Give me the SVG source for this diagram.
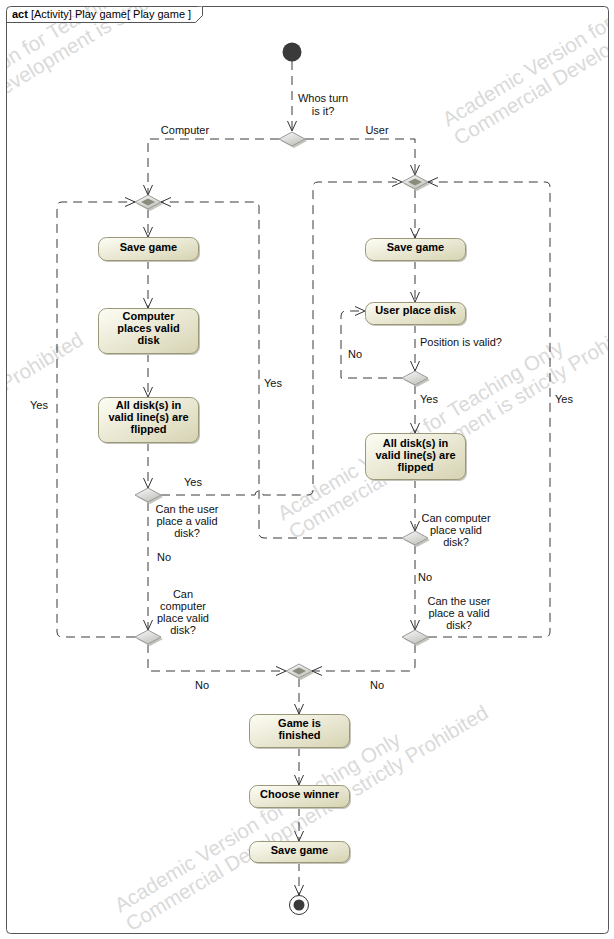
<svg xmlns="http://www.w3.org/2000/svg" width="614" height="939" viewBox="0 0 614 939">
  <style>
    .frame { fill: #ffffff; stroke: #555555; stroke-width: 1; }
    .tab { fill: #ffffff; stroke: #555555; stroke-width: 1; }
    .wm { font-family: "Liberation Sans", Arial, sans-serif; font-size: 20.5px; fill: #dadada; }
    .edge { fill: none; stroke: #3a3a3a; stroke-width: 1; stroke-dasharray: 9 6; }
    .act { fill: url(#actFill); stroke: #9a9878; stroke-width: 1; }
    .shadow { fill: #c4c4bc; }
    .dec { fill: url(#decFill); stroke: #9a9a9a; stroke-width: 1; }
    .mrg { fill: url(#decFill); stroke: #9a9a9a; stroke-width: 1; }
    .mrgIn { fill: #8c8c7c; stroke: none; }
    .nodeText { font-family: "Liberation Sans", Arial, sans-serif; font-size: 11px; font-weight: bold; fill: #000000; text-anchor: middle; }
    .lbl { font-family: "Liberation Sans", Arial, sans-serif; font-size: 11px; fill: #111111; }
    .lblC { font-family: "Liberation Sans", Arial, sans-serif; font-size: 11px; fill: #111111; text-anchor: middle; }
    .title { font-family: "Liberation Sans", Arial, sans-serif; font-size: 11px; fill: #000000; }
  </style>
  <defs>
    <linearGradient id="actFill" x1="0" y1="0" x2="1" y2="1">
      <stop offset="0" stop-color="#fdfdf5"/>
      <stop offset="1" stop-color="#d6d3b2"/>
    </linearGradient>
    <linearGradient id="decFill" x1="0" y1="0" x2="0.6" y2="1">
      <stop offset="0" stop-color="#fafafa"/>
      <stop offset="1" stop-color="#c4c4c0"/>
    </linearGradient>
    <marker id="arr" viewBox="0 0 10 10" refX="10" refY="5" markerWidth="10" markerHeight="10" markerUnits="userSpaceOnUse" orient="auto">
      <path d="M0,0.5 L10,5 L0,9.5" fill="none" stroke="#333333" stroke-width="1"/>
    </marker>
    <clipPath id="frameClip">
      <rect x="7" y="7" width="601" height="926"/>
    </clipPath>
  </defs>

  <!-- diagram frame -->
  <rect class="frame" x="6.5" y="6.5" width="602" height="927" rx="4"/>

  <!-- watermark tiles, clipped to the frame -->
  <g id="watermark" clip-path="url(#frameClip)">
    <g transform="translate(-118,143) rotate(-31)"><text class="wm" x="0" y="0">Academic Version for Teaching Only</text><text class="wm" x="0" y="22">Commercial Development is strictly Prohibited</text></g>
    <g transform="translate(448,127) rotate(-31)"><text class="wm" x="0" y="0">Academic Version for Teaching Only</text><text class="wm" x="0" y="22">Commercial Development is strictly Prohibited</text></g>
    <g transform="translate(-285,540) rotate(-31)"><text class="wm" x="0" y="0">Academic Version for Teaching Only</text><text class="wm" x="0" y="22">Commercial Development is strictly Prohibited</text></g>
    <g transform="translate(283,521) rotate(-31)"><text class="wm" x="0" y="0">Academic Version for Teaching Only</text><text class="wm" x="0" y="22">Commercial Development is strictly Prohibited</text></g>
    <g transform="translate(120,913) rotate(-31)"><text class="wm" x="0" y="0">Academic Version for Teaching Only</text><text class="wm" x="0" y="22">Commercial Development is strictly Prohibited</text></g>
  </g>

  <!-- frame title tab -->
  <g id="frameTitle">
    <path class="tab" d="M6.5,22.5 H195.5 L202.5,15.5 V6.5"/>
    <text class="title" x="12" y="18"><tspan font-weight="bold">act</tspan> [Activity] Play game[ Play game ]</text>
  </g>

  <!-- control flows -->
  <g id="connectors">
    <path class="edge" d="M292,61 V131" marker-end="url(#arr)"/>
    <path class="edge" d="M279,139 H148 V195" marker-end="url(#arr)"/>
    <path class="edge" d="M305,139 H415 V175" marker-end="url(#arr)"/>

    <!-- computer branch -->
    <path class="edge" d="M148,209 V237" marker-end="url(#arr)"/>
    <path class="edge" d="M148,260 V308" marker-end="url(#arr)"/>
    <path class="edge" d="M148,353 V397" marker-end="url(#arr)"/>
    <path class="edge" d="M148,442 V488" marker-end="url(#arr)"/>
    <path class="edge" d="M161,495 H255 A4,4 0 0 1 263,495 H308 Q313,495 313,490 V187 Q313,182 318,182 H402" marker-end="url(#arr)"/>
    <path class="edge" d="M148,502 V630" marker-end="url(#arr)"/>
    <path class="edge" d="M135,637 H62 Q57,637 57,632 V207 Q57,202 62,202 H135" marker-end="url(#arr)"/>
    <path class="edge" d="M148,644 V671 H286" marker-end="url(#arr)"/>

    <!-- user branch -->
    <path class="edge" d="M415,189 V238" marker-end="url(#arr)"/>
    <path class="edge" d="M415,260 V302" marker-end="url(#arr)"/>
    <path class="edge" d="M415,324 V371" marker-end="url(#arr)"/>
    <path class="edge" d="M402,378 H341 V316 Q341,311 346,311 H365" marker-end="url(#arr)"/>
    <path class="edge" d="M415,385 V433" marker-end="url(#arr)"/>
    <path class="edge" d="M415,479 V531" marker-end="url(#arr)"/>
    <path class="edge" d="M402,538 H264 Q259,538 259,533 V207 Q259,202 254,202 H161" marker-end="url(#arr)"/>
    <path class="edge" d="M415,545 V630" marker-end="url(#arr)"/>
    <path class="edge" d="M428,637 H545 Q550,637 550,632 V187 Q550,182 545,182 H428" marker-end="url(#arr)"/>
    <path class="edge" d="M415,644 V666 Q415,671 410,671 H312" marker-end="url(#arr)"/>

    <!-- end sequence -->
    <path class="edge" d="M299,678 V714" marker-end="url(#arr)"/>
    <path class="edge" d="M299,747 V785" marker-end="url(#arr)"/>
    <path class="edge" d="M299,807 V841" marker-end="url(#arr)"/>
    <path class="edge" d="M299,862 V895" marker-end="url(#arr)"/>

    <!-- guard labels -->
    <text class="lblC" x="323" y="102">Whos turn</text>
    <text class="lblC" x="323" y="115">is it?</text>
    <text class="lblC" x="185" y="134">Computer</text>
    <text class="lblC" x="377" y="134">User</text>
    <text class="lbl" x="184" y="486">Yes</text>
    <text class="lbl" x="264" y="387">Yes</text>
    <text class="lbl" x="30" y="409">Yes</text>
    <text class="lbl" x="157" y="561">No</text>
    <text class="lbl" x="420" y="346">Position is valid?</text>
    <text class="lbl" x="348" y="358">No</text>
    <text class="lbl" x="420" y="403">Yes</text>
    <text class="lbl" x="418" y="581">No</text>
    <text class="lbl" x="555" y="403">Yes</text>
    <text class="lbl" x="195" y="689">No</text>
    <text class="lbl" x="370" y="689">No</text>
  </g>

  <!-- initial node -->
  <g id="start">
    <circle cx="292" cy="52" r="9.5" fill="#3a3a3a"/>
  </g>

  <!-- decision: whose turn -->
  <g id="turnDecision">
    <polygon points="281,141 294,134 307,141 294,148" class="shadow"/>
    <polygon class="dec" points="279,139 292,132 305,139 292,146"/>
  </g>

  <!-- merge nodes -->
  <g id="mergeComputer">
    <polygon points="137,204 150,197 163,204 150,211" class="shadow"/>
    <polygon class="mrg" points="135,202 148,195 161,202 148,209"/>
    <polygon class="mrgIn" points="141,202 148,198.5 155,202 148,205.5"/>
  </g>
  <g id="mergeUser">
    <polygon points="404,184 417,177 430,184 417,191" class="shadow"/>
    <polygon class="mrg" points="402,182 415,175 428,182 415,189"/>
    <polygon class="mrgIn" points="408,182 415,178.5 422,182 415,185.5"/>
  </g>
  <g id="mergeEnd">
    <polygon points="288,673 301,666 314,673 301,680" class="shadow"/>
    <polygon class="mrg" points="286,671 299,664 312,671 299,678"/>
    <polygon class="mrgIn" points="292,671 299,667.5 306,671 299,674.5"/>
  </g>

  <!-- computer turn -->
  <g id="saveGameComputer">
    <rect class="shadow" x="100" y="239" width="100" height="23" rx="8"/>
    <rect class="act" x="98.5" y="237.5" width="100" height="23" rx="8"/>
    <text class="nodeText" x="148.5" y="251">Save game</text>
  </g>
  <g id="computerPlacesDisk">
    <rect class="shadow" x="100" y="310" width="100" height="45" rx="8"/>
    <rect class="act" x="98.5" y="308.5" width="100" height="45" rx="8"/>
    <text class="nodeText" x="148.5" y="320">Computer</text>
    <text class="nodeText" x="148.5" y="332">places valid</text>
    <text class="nodeText" x="148.5" y="344">disk</text>
  </g>
  <g id="flipComputer">
    <rect class="shadow" x="100" y="399" width="100" height="45" rx="8"/>
    <rect class="act" x="98.5" y="397.5" width="100" height="45" rx="8"/>
    <text class="nodeText" x="148.5" y="409">All disk(s) in</text>
    <text class="nodeText" x="148.5" y="421">valid line(s) are</text>
    <text class="nodeText" x="148.5" y="433">flipped</text>
  </g>
  <g id="userCanPlace">
    <polygon points="137,497 150,490 163,497 150,504" class="shadow"/>
    <polygon class="dec" points="135,495 148,488 161,495 148,502"/>
    <text class="lblC" x="187" y="513">Can the user</text>
    <text class="lblC" x="187" y="525">place a valid</text>
    <text class="lblC" x="187" y="537">disk?</text>
  </g>
  <g id="computerCanPlaceLeft">
    <polygon points="137,639 150,632 163,639 150,646" class="shadow"/>
    <polygon class="dec" points="135,637 148,630 161,637 148,644"/>
    <text class="lblC" x="183" y="598">Can</text>
    <text class="lblC" x="183" y="610">computer</text>
    <text class="lblC" x="183" y="622">place valid</text>
    <text class="lblC" x="183" y="634">disk?</text>
  </g>

  <!-- user turn -->
  <g id="saveGameUser">
    <rect class="shadow" x="367" y="240" width="100" height="22" rx="8"/>
    <rect class="act" x="365.5" y="238.5" width="100" height="22" rx="8"/>
    <text class="nodeText" x="415.5" y="251">Save game</text>
  </g>
  <g id="userPlaceDisk">
    <rect class="shadow" x="367" y="304" width="100" height="22" rx="8"/>
    <rect class="act" x="365.5" y="302.5" width="100" height="22" rx="8"/>
    <text class="nodeText" x="415.5" y="314">User place disk</text>
  </g>
  <g id="positionValid">
    <polygon points="404,380 417,373 430,380 417,387" class="shadow"/>
    <polygon class="dec" points="402,378 415,371 428,378 415,385"/>
  </g>
  <g id="flipUser">
    <rect class="shadow" x="367" y="435" width="100" height="46" rx="8"/>
    <rect class="act" x="365.5" y="433.5" width="100" height="46" rx="8"/>
    <text class="nodeText" x="415.5" y="447">All disk(s) in</text>
    <text class="nodeText" x="415.5" y="459">valid line(s) are</text>
    <text class="nodeText" x="415.5" y="471">flipped</text>
  </g>
  <g id="computerCanPlaceRight">
    <polygon points="404,540 417,533 430,540 417,547" class="shadow"/>
    <polygon class="dec" points="402,538 415,531 428,538 415,545"/>
    <text class="lblC" x="456" y="522">Can computer</text>
    <text class="lblC" x="456" y="534">place valid</text>
    <text class="lblC" x="456" y="546">disk?</text>
  </g>
  <g id="userCanPlaceRight">
    <polygon points="404,639 417,632 430,639 417,646" class="shadow"/>
    <polygon class="dec" points="402,637 415,630 428,637 415,644"/>
    <text class="lblC" x="459" y="605">Can the user</text>
    <text class="lblC" x="459" y="617">place a valid</text>
    <text class="lblC" x="459" y="629">disk?</text>
  </g>

  <!-- game over -->
  <g id="gameFinished">
    <rect class="shadow" x="251" y="716" width="100" height="33" rx="8"/>
    <rect class="act" x="249.5" y="714.5" width="100" height="33" rx="8"/>
    <text class="nodeText" x="299.5" y="727">Game is</text>
    <text class="nodeText" x="299.5" y="739">finished</text>
  </g>
  <g id="chooseWinner">
    <rect class="shadow" x="251" y="787" width="100" height="22" rx="8"/>
    <rect class="act" x="249.5" y="785.5" width="100" height="22" rx="8"/>
    <text class="nodeText" x="299.5" y="798">Choose winner</text>
  </g>
  <g id="saveGameEnd">
    <rect class="shadow" x="251" y="843" width="100" height="21" rx="8"/>
    <rect class="act" x="249.5" y="841.5" width="100" height="21" rx="8"/>
    <text class="nodeText" x="299.5" y="854">Save game</text>
  </g>

  <!-- final node -->
  <g id="end">
    <circle cx="299" cy="905" r="9.5" fill="#ffffff" stroke="#333333" stroke-width="1"/>
    <circle cx="299" cy="905" r="5.5" fill="#3a3a3a"/>
  </g>
</svg>
